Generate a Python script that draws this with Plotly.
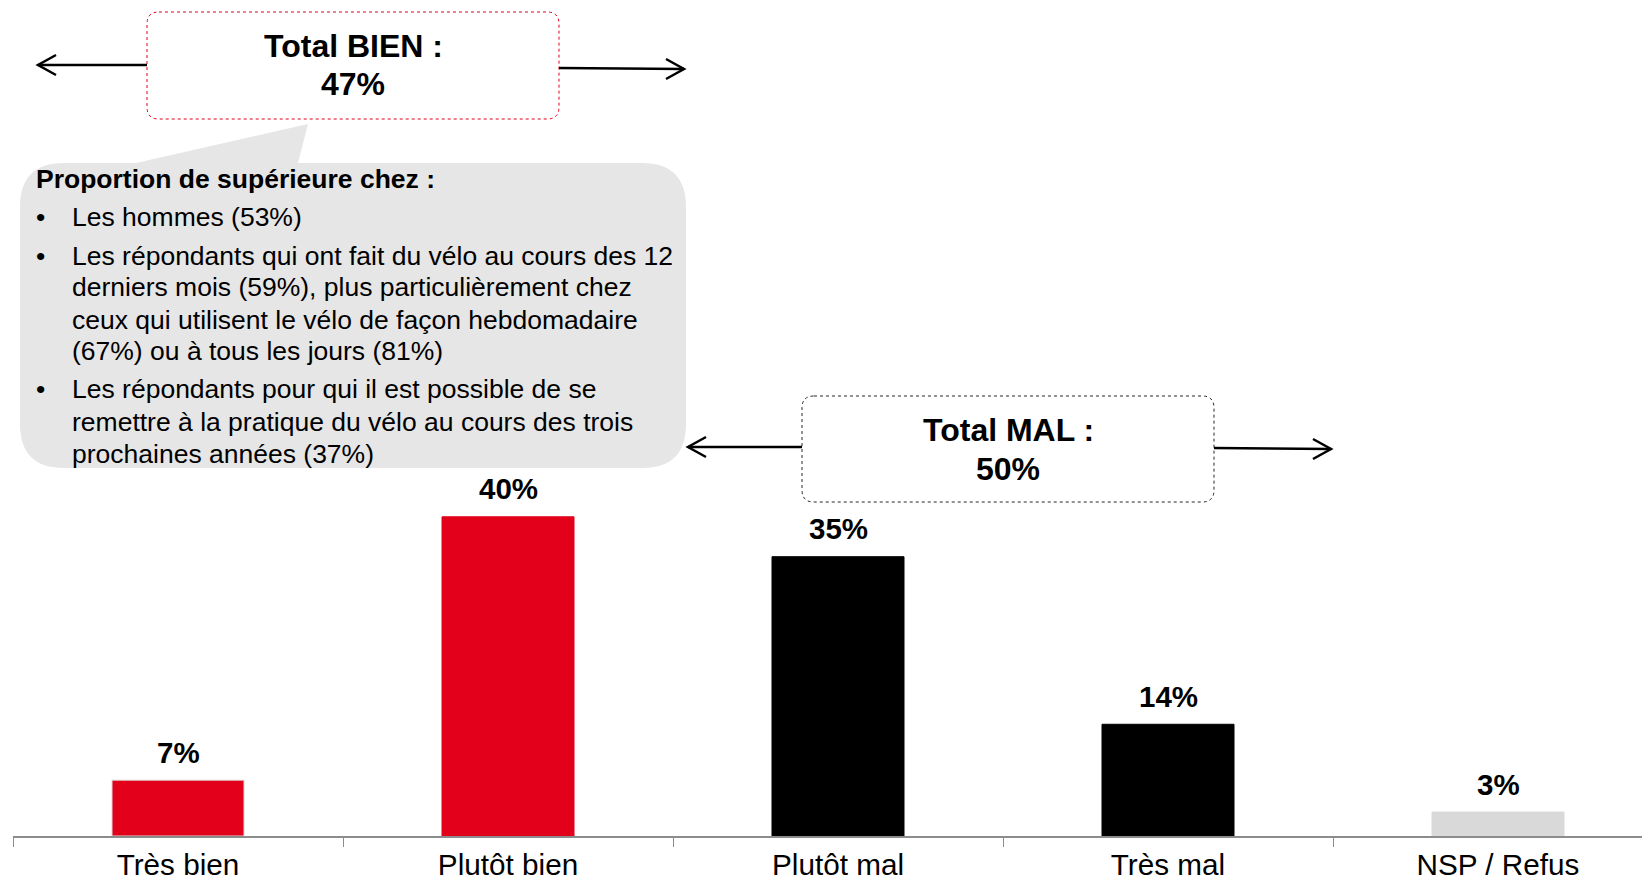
import plotly.graph_objects as go

# ---------------- data ----------------
categories = ["Très bien", "Plutôt bien", "Plutôt mal", "Très mal", "NSP / Refus"]
values = [7, 40, 35, 14, 3]
value_labels = ["7%", "40%", "35%", "14%", "3%"]
bar_colors = ["#E2001A", "#E2001A", "#000000", "#000000", "#D9D9D9"]
bar_line_colors = ["#D9D9D9", "#E2001A", "#000000", "#000000", "#D9D9D9"]

total_bien_lines = ["Total BIEN :", "47%"]
total_mal_lines = ["Total MAL :", "50%"]
callout_header = "Proportion de supérieure chez :"
callout_lines = [
    (True, "Les hommes (53%)"),
    (True, "Les répondants qui ont fait du vélo au cours des 12"),
    (False, "derniers mois (59%), plus particulièrement chez"),
    (False, "ceux qui utilisent le vélo de façon hebdomadaire"),
    (False, "(67%) ou à tous les jours (81%)"),
    (True, "Les répondants pour qui il est possible de se"),
    (False, "remettre à la pratique du vélo au cours des trois"),
    (False, "prochaines années (37%)"),
]

# ---------------- geometry helpers (page pixels -> paper) ----------------
W, H = 1650, 882
OFF = 8  # page body margin
ML, MR, MT, MB = 5, 0, 0, 54
PW, PH = W - ML - MR, H - MT - MB


def px(x):
    return (x - OFF - ML) / PW


def py(y):
    return (H - MB - (y - OFF)) / PH


def pt(x, y):
    return f"{px(x):.5f},{py(y):.5f}"


def rrect_path(x0, y0, x1, y1, r, pointer=None):
    p = f"M {pt(x0 + r, y0)} "
    if pointer:
        (a, b), (tx, ty), (c, d) = pointer
        p += f"L {pt(a, b)} L {pt(tx, ty)} L {pt(c, d)} "
    p += (f"L {pt(x1 - r, y0)} Q {pt(x1, y0)} {pt(x1, y0 + r)} "
          f"L {pt(x1, y1 - r)} Q {pt(x1, y1)} {pt(x1 - r, y1)} "
          f"L {pt(x0 + r, y1)} Q {pt(x0, y1)} {pt(x0, y1 - r)} "
          f"L {pt(x0, y0 + r)} Q {pt(x0, y0)} {pt(x0 + r, y0)} Z")
    return p


FONT = "Arial, Liberation Sans, sans-serif"

fig = go.Figure()
fig.add_trace(go.Bar(
    x=categories, y=values, width=0.4,
    marker=dict(color=bar_colors, line=dict(color=bar_line_colors, width=1)),
    hoverinfo="skip",
))

shapes = []
annotations = []

# value labels
for c, v, t in zip(categories, values, value_labels):
    annotations.append(dict(x=c, y=v, xref="x", yref="y", text=f"<b>{t}</b>",
                            showarrow=False, yanchor="middle", yshift=28,
                            font=dict(size=29.5, color="#000", family=FONT)))

# callout bubble
shapes.append(dict(type="path", xref="paper", yref="paper",
                   path=rrect_path(20, 163, 686, 468, 44,
                                   pointer=((136, 163), (308, 124), (298, 163))),
                   fillcolor="#E6E6E6", line=dict(width=0), layer="below"))

annotations.append(dict(x=px(34), y=py(179), xref="paper", yref="paper",
                        text=f"<b>{callout_header}</b>", showarrow=False,
                        xanchor="left", yanchor="middle",
                        font=dict(size=26.5, color="#000", family=FONT)))
line_y = [217, 256, 287, 320, 351, 389, 422, 454]
for (bullet, txt), yy in zip(callout_lines, line_y):
    if bullet:
        annotations.append(dict(x=px(40), y=py(yy), xref="paper", yref="paper",
                                text="•", showarrow=False, xanchor="center", yanchor="middle",
                                font=dict(size=26.5, color="#000", family=FONT)))
    annotations.append(dict(x=px(70), y=py(yy), xref="paper", yref="paper",
                            text=txt, showarrow=False, xanchor="left", yanchor="middle",
                            font=dict(size=26.5, color="#000", family=FONT)))

# total boxes
shapes.append(dict(type="path", xref="paper", yref="paper",
                   path=rrect_path(147, 12, 559, 119, 12),
                   fillcolor="#FFFFFF", line=dict(color="#E2001A", width=1, dash="dot")))
shapes.append(dict(type="path", xref="paper", yref="paper",
                   path=rrect_path(802, 396, 1214, 502, 12),
                   fillcolor="#FFFFFF", line=dict(color="#262626", width=1, dash="dot")))

for txt, yy in zip(total_bien_lines, [46, 84]):
    annotations.append(dict(x=px(353), y=py(yy), xref="paper", yref="paper",
                            text=f"<b>{txt}</b>", showarrow=False,
                            xanchor="center", yanchor="middle",
                            font=dict(size=32, color="#000", family=FONT)))
for txt, yy in zip(total_mal_lines, [430, 469]):
    annotations.append(dict(x=px(1008), y=py(yy), xref="paper", yref="paper",
                            text=f"<b>{txt}</b>", showarrow=False,
                            xanchor="center", yanchor="middle",
                            font=dict(size=32, color="#000", family=FONT)))


# arrows
def arrow(x0, y0, x1, y1):
    shapes.append(dict(type="line", xref="paper", yref="paper",
                       x0=px(x0), y0=py(y0), x1=px(x1), y1=py(y1),
                       line=dict(color="#000", width=2.5)))
    d = -1 if x1 < x0 else 1
    shapes.append(dict(type="path", xref="paper", yref="paper",
                       path=f"M {pt(x1 - d * 18, y1 - 10)} L {pt(x1, y1)} L {pt(x1 - d * 18, y1 + 10)}",
                       line=dict(color="#000", width=2.5)))


arrow(147, 65, 38, 65)
arrow(559, 68, 684, 69)
arrow(802, 447, 688, 447)
arrow(1214, 448, 1331, 449)

fig.update_layout(
    width=W, height=H,
    margin=dict(l=ML, r=MR, t=MT, b=MB),
    paper_bgcolor="#FFFFFF", plot_bgcolor="#FFFFFF",
    showlegend=False,
    shapes=shapes, annotations=annotations,
    xaxis=dict(range=[-0.5, 4.5 - 5 / 330], showgrid=False, zeroline=False,
               showline=True, linecolor="#8C8C8C", linewidth=2,
               ticks="outside", tickson="boundaries", ticklen=9,
               tickcolor="#8C8C8C", tickwidth=1,
               ticklabelstandoff=1,
               tickfont=dict(size=29.7, color="#000", family=FONT)),
    yaxis=dict(range=[0, 828 / 7.98], visible=False, fixedrange=True),
)

fig.write_html("out.html")
